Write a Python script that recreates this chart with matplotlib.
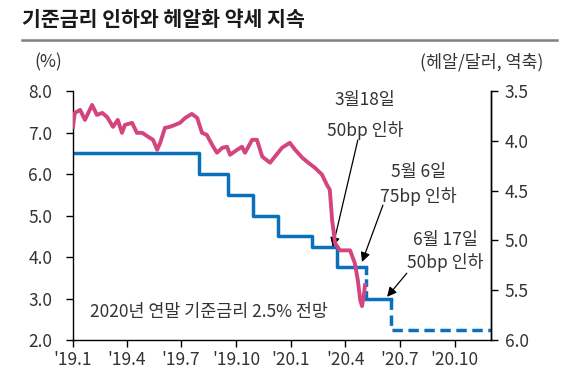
import matplotlib
matplotlib.use("Agg")
import matplotlib.pyplot as plt
import pandas as pd

plt.rcParams['font.family'] = ['Noto Sans CJK KR', 'DejaVu Sans']

# 헤알/달러 환율 (우축, 역축)
brl_dates = ['2019-01-01', '2019-01-04', '2019-01-13', '2019-01-21', '2019-02-02', '2019-02-10',
             '2019-02-19', '2019-02-27', '2019-03-09', '2019-03-17', '2019-03-24', '2019-03-29',
             '2019-04-10', '2019-04-18', '2019-04-27', '2019-05-07', '2019-05-15', '2019-05-22',
             '2019-05-27', '2019-06-04', '2019-06-12', '2019-06-21', '2019-06-29', '2019-07-08',
             '2019-07-19', '2019-07-28', '2019-08-05', '2019-08-13', '2019-08-22', '2019-08-30',
             '2019-09-08', '2019-09-16', '2019-09-21', '2019-10-03', '2019-10-11', '2019-10-16',
             '2019-10-28', '2019-11-05', '2019-11-14', '2019-11-27', '2019-12-05', '2019-12-17',
             '2019-12-30', '2020-01-08', '2020-01-20', '2020-01-30', '2020-02-10', '2020-02-22',
             '2020-03-01', '2020-03-06', '2020-03-10', '2020-03-15', '2020-03-23', '2020-04-09',
             '2020-04-17', '2020-04-22', '2020-04-26', '2020-04-29', '2020-05-02', '2020-05-04']
brl_values = [3.86, 3.72, 3.69, 3.79, 3.64, 3.74,
              3.72, 3.76, 3.86, 3.79, 3.92, 3.84,
              3.82, 3.92, 3.92, 3.96, 3.99, 4.09,
              4.02, 3.87, 3.86, 3.84, 3.82, 3.77,
              3.73, 3.77, 3.92, 3.94, 4.04, 4.12,
              4.07, 4.06, 4.14, 4.09, 4.06, 4.12,
              3.99, 3.99, 4.16, 4.22, 4.16, 4.07,
              4.02, 4.09, 4.17, 4.22, 4.27, 4.34,
              4.44, 4.49, 4.80, 5.03, 5.10, 5.10,
              5.23, 5.40, 5.60, 5.66, 5.55, 5.45]

# 기준금리 (좌축)
rate_dates = ['2019-01-01', '2019-07-31', '2019-09-18', '2019-10-30', '2019-12-11',
              '2020-02-05', '2020-03-18', '2020-05-06', '2020-06-17']
rate_values = [6.5, 6.0, 5.5, 5.0, 4.5, 4.25, 3.75, 3.0, 2.25]
rate_end = '2020-12-01'

tick_dates = ['2019-01-01', '2019-04-01', '2019-07-01', '2019-10-01',
              '2020-01-01', '2020-04-01', '2020-07-01', '2020-10-01']
tick_labels = ["'19.1", "'19.4", "'19.7", "'19.10", "'20.1", "'20.4", "'20.7", "'20.10"]

brl_x = pd.to_datetime(brl_dates)
rate_x = pd.to_datetime(rate_dates)
end_x = pd.Timestamp(rate_end)

blue = '#0A70BE'
pink = '#D4457F'
txt = '#333333'
fs = 12.5

fig = plt.figure(figsize=(5.88, 3.73), dpi=100)
ax = fig.add_axes([73 / 588, 1 - 340 / 373, (491 - 73) / 588, (340 - 91) / 373])

# policy rate: solid steps up to the May cut, then dashed drops
ax.step(list(rate_x[:-2]) + [rate_x[-2]], list(rate_values[:-2]) + [rate_values[-3]],
        where='post', color=blue, lw=2.5, zorder=2)
ax.plot([rate_x[-2], rate_x[-2]], [rate_values[-3], rate_values[-2]], color=blue, lw=2.5,
        ls=(0, (2.2, 1.2)), zorder=2)
ax.plot([rate_x[-2], rate_x[-1]], [rate_values[-2], rate_values[-2]], color=blue, lw=2.5, zorder=2)
ax.plot([rate_x[-1], rate_x[-1], end_x], [rate_values[-2], rate_values[-1], rate_values[-1]],
        color=blue, lw=2.5, ls=(0, (3, 1.6)), zorder=2)

ax.set_xlim(pd.Timestamp('2019-01-01'), end_x)
ax.set_ylim(2.0, 8.0)
ax.set_yticks([2, 3, 4, 5, 6, 7, 8])
ax.yaxis.set_major_formatter(plt.FormatStrFormatter('%.1f'))
ax.set_xticks(pd.to_datetime(tick_dates))
ax.set_xticklabels(tick_labels)

ax2 = ax.twinx()
ax2.plot(brl_x, brl_values, color=pink, lw=2.8, zorder=3)
ax2.set_ylim(6.0, 3.5)
ax2.set_yticks([3.5, 4.0, 4.5, 5.0, 5.5, 6.0])
ax2.yaxis.set_major_formatter(plt.FormatStrFormatter('%.1f'))

for a in (ax, ax2):
    a.spines['top'].set_visible(False)
    for s in a.spines.values():
        s.set_linewidth(1.0)
        s.set_color('black')
    a.tick_params(axis='both', direction='out', length=5, width=1, labelsize=fs,
                  labelcolor=txt, pad=4)
ax.tick_params(axis='y', pad=10)
ax.tick_params(axis='x', pad=3)
ax2.tick_params(axis='y', pad=5)
ax2.spines['left'].set_visible(False)
ax2.spines['bottom'].set_visible(False)

# annotations
arrow = dict(arrowstyle='-|>', color='black', lw=0.9, mutation_scale=14, shrinkA=0, shrinkB=0)
notes = [
    ('3월18일', '50bp 인하', '2020-05-04', 7.78, 7.06, '2020-04-22', 6.82, '2020-03-11', 4.24),
    ('5월 6일', '75bp 인하', '2020-08-01', 6.05, 5.45, '2020-06-03', 5.25, '2020-04-29', 3.88),
    ('6월 17일', '50bp 인하', '2020-09-15', 4.41, 3.86, '2020-07-13', 3.61, '2020-06-10', 3.04),
]
for l1, l2, tx, ty1, ty2, sx, sy, ex, ey in notes:
    ax.text(pd.Timestamp(tx), ty1, l1, ha='center', va='center', fontsize=fs, color=txt)
    ax.text(pd.Timestamp(tx), ty2, l2, ha='center', va='center', fontsize=fs, color=txt)
    ax.annotate('', xy=(pd.Timestamp(ex), ey), xytext=(pd.Timestamp(sx), sy),
                arrowprops=arrow, zorder=5)

ax.text(pd.Timestamp('2019-01-29'), 2.67, '2020년 연말 기준금리 2.5% 전망', ha='left',
        va='center', fontsize=fs, color=txt)

# title, rule and unit labels
fig.text(22 / 588, 1 - 20 / 373, '기준금리 인하와 헤알화 약세 지속', ha='left', va='center',
         fontsize=14.8, fontweight='bold', color='#1a1a1a')
fig.add_artist(plt.Line2D([22 / 588, 557 / 588], [1 - 40 / 373, 1 - 40 / 373],
                          color='#808080', lw=1.8))
fig.text(48 / 588, 1 - 62 / 373, '(%)', ha='center', va='center', fontsize=fs, color=txt)
fig.text(482 / 588, 1 - 62 / 373, '(헤알/달러, 역축)', ha='center', va='center',
         fontsize=fs, color=txt)

fig.savefig('out.png', dpi=100)
